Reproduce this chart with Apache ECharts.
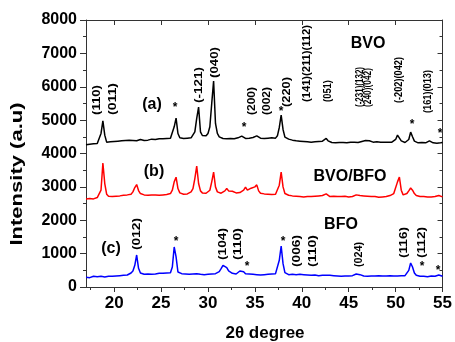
<!DOCTYPE html>
<html>
<head>
<meta charset="utf-8">
<script src="https://cdn.jsdelivr.net/npm/echarts@6/dist/echarts.min.js"></script>
<style>
  html, body { margin: 0; padding: 0; background: #fff; }
  #chart { width: 455px; height: 342px; }
</style>
</head>
<body>
<div id="chart"></div>
<script>
(function () {
  'use strict';

  // 2theta sampling: 17.0 .. 55.0 in 0.2 degree steps (191 points)
  var thetaStart = 17;
  var thetaStep = 0.2;

  // (a) BVO, black
  var bvo = [
    4260, 4240, 4280, 4250, 4290, 4270, 4300, 4290, 4600, 4980,
    4550, 4340, 4320, 4350, 4330, 4360, 4340, 4370, 4350, 4380,
    4360, 4390, 4370, 4400, 4380, 4390, 4410, 4380, 4400, 4420,
    4400, 4390, 4420, 4400, 4410, 4430, 4400, 4420, 4410, 4440,
    4420, 4440, 4410, 4450, 4430, 4460, 4500, 4800, 5060, 4600,
    4470, 4440, 4450, 4430, 4460, 4440, 4470, 4520, 4650, 5050,
    5390, 4650, 4540, 4500, 4530, 4600, 4800, 5500, 6170, 4900,
    4600, 4500, 4470, 4450, 4470, 4440, 4460, 4450, 4470, 4440,
    4450, 4470, 4460, 4520, 4480, 4450, 4470, 4460, 4490, 4480,
    4500, 4530, 4480, 4460, 4470, 4450, 4440, 4460, 4450, 4470,
    4470, 4460, 4530, 4780, 5150, 4720, 4490, 4440, 4430, 4410,
    4400, 4390, 4380, 4400, 4370, 4380, 4360, 4370, 4350, 4360,
    4340, 4360, 4350, 4340, 4360, 4350, 4370, 4420, 4450, 4380,
    4350, 4330, 4340, 4320, 4340, 4330, 4350, 4330, 4340, 4320,
    4330, 4340, 4320, 4340, 4350, 4330, 4340, 4360, 4380, 4390,
    4400, 4380, 4350, 4340, 4330, 4350, 4330, 4340, 4320, 4340,
    4330, 4340, 4350, 4340, 4370, 4420, 4550, 4500, 4380, 4340,
    4330, 4350, 4420, 4640, 4500, 4370, 4330, 4320, 4340, 4330,
    4340, 4320, 4350, 4380, 4340, 4320, 4330, 4310, 4340, 4320,
    4330
  ];

  // (b) BVO/BFO, red
  var bvoBfo = [
    2640, 2620, 2650, 2660, 2640, 2670, 2680, 2700, 2900, 3715,
    3100, 2780, 2720, 2740, 2710, 2730, 2720, 2750, 2730, 2740,
    2750, 2730, 2760, 2740, 2780, 2850, 2980, 3070, 2890, 2800,
    2780, 2760, 2770, 2750, 2770, 2760, 2780, 2760, 2770, 2750,
    2770, 2760, 2780, 2770, 2790, 2800, 2900, 3150, 3290, 2950,
    2820, 2790, 2780, 2800, 2790, 2810, 2850, 2950, 3250, 3625,
    3100, 2880, 2820, 2800, 2810, 2830, 2900, 3150, 3445, 3000,
    2850, 2820, 2810, 2830, 2880, 2950, 2880, 2840, 2870, 2830,
    2820, 2810, 2830, 2880, 2900, 2990, 2900, 2880, 2960, 2930,
    3000, 3060, 2880, 2810, 2800, 2790, 2800, 2780, 2790, 2770,
    2790, 2780, 2820, 3050, 3445, 3000, 2800, 2760, 2750, 2740,
    2730, 2740, 2720, 2730, 2710, 2720, 2700, 2720, 2710, 2700,
    2710, 2700, 2720, 2710, 2730, 2720, 2740, 2770, 2790, 2740,
    2710, 2700, 2720, 2700, 2710, 2690, 2710, 2700, 2720, 2710,
    2700, 2720, 2710, 2740, 2760, 2770, 2740, 2720, 2730, 2710,
    2720, 2700, 2710, 2690, 2710, 2700, 2690, 2710, 2700, 2720,
    2710, 2730, 2740, 2760, 2800, 2850, 3150, 3296, 2900, 2760,
    2760, 2800, 2880, 2966, 2900, 2800, 2740, 2720, 2710, 2700,
    2710, 2690, 2700, 2720, 2700, 2690, 2710, 2700, 2740, 2720,
    2700
  ];

  // (c) BFO, blue
  var bfo = [
    290, 310, 280, 300, 320, 300, 310, 290, 320, 310,
    300, 330, 320, 340, 320, 350, 330, 360, 340, 370,
    350, 380, 360, 390, 420, 480, 650, 959, 560, 420,
    400, 380, 410, 390, 400, 380, 410, 390, 400, 410,
    390, 410, 400, 420, 410, 430, 600, 1200, 900, 450,
    430, 400, 410, 390, 400, 380, 400, 390, 380, 400,
    390, 380, 400, 370, 390, 380, 400, 390, 380, 400,
    420, 460, 550, 650, 690, 580, 480, 430, 410, 400,
    390, 420, 480, 530, 460, 400, 380, 390, 370, 380,
    390, 370, 380, 360, 380, 370, 390, 380, 370, 390,
    380, 400, 450, 800, 1228, 700, 430, 380, 370, 360,
    380, 360, 370, 400, 380, 360, 370, 350, 360, 340,
    350, 340, 360, 350, 340, 360, 350, 370, 350, 340,
    350, 330, 340, 350, 330, 340, 320, 340, 330, 340,
    330, 350, 340, 360, 390, 400, 370, 340, 330, 340,
    320, 340, 330, 310, 330, 320, 340, 320, 330, 310,
    330, 320, 340, 320, 330, 310, 330, 320, 340, 330,
    340, 380, 500, 720, 600, 420, 350, 330, 320, 330,
    320, 330, 310, 320, 330, 310, 320, 330, 360, 340,
    320
  ];

  var xMajorTicks = [20, 25, 30, 35, 40, 45, 50, 55];
  var xMinorTicks = [17.5, 22.5, 27.5, 32.5, 37.5, 42.5, 47.5, 52.5];

  // peak labels: text, centre x, bottom y, top y (pixels, rotated text)
  var peakLabels = [
    ['(110)', 97, 115, 85],
    ['(011)', 113, 115, 83],
    ['(-121)', 199, 103, 67],
    ['(040)', 215, 78, 47],
    ['(200)', 252, 115, 87],
    ['(002)', 267, 115, 87],
    ['(220)', 287, 107, 77],
    ['(141)(211)(112)', 307, 102, 25],
    ['(051)', 328, 102, 80],
    ['(-231)(132)', 360, 107, 67],
    ['(240)(042)', 368, 107, 68],
    ['(-202)(042)', 399, 103, 57],
    ['(161)(013)', 428, 113, 70],
    ['(012)', 137, 250, 218],
    ['(104)', 223, 260, 228],
    ['(110)', 238, 260, 228],
    ['(006)', 297, 267, 235],
    ['(110)', 313, 267, 235],
    ['(024)', 359, 267, 242],
    ['(116)', 404, 258, 227],
    ['(112)', 422, 258, 227]
  ];

  var starMarks = [
    [175, 106], [244, 126], [281, 110], [412, 123], [440, 132],
    [176, 240], [247, 265], [283, 240], [422, 265], [438, 269]
  ];

  var sampleLabels = [
    ['BVO', 368, 44],
    ['BVO/BFO', 350, 177],
    ['BFO', 341, 225],
    ['(a)', 152, 105],
    ['(b)', 154, 172],
    ['(c)', 111, 249]
  ];

  var FONT = "'Liberation Sans', Arial, sans-serif";
  var measureCtx = document.createElement('canvas').getContext('2d');

  function textWidth(text, font) {
    measureCtx.font = font;
    return measureCtx.measureText(text).width;
  }

  function toPairs(values) {
    var out = [];
    for (var i = 0; i < values.length; i += 1) {
      out.push([+(thetaStart + i * thetaStep).toFixed(1), values[i]]);
    }
    return out;
  }

  function centeredText(text, x, y, font) {
    return {
      type: 'text', x: x, y: y,
      style: { text: text, font: font, fill: '#000',
        textAlign: 'center', textVerticalAlign: 'middle', align: 'center', verticalAlign: 'middle' }
    };
  }

  function buildGraphics() {
    var els = [];
    for (var i = 0; i < peakLabels.length; i += 1) {
      var p = peakLabels[i];
      var s = (p[2] - p[3]) / textWidth(p[0], 'bold 11px ' + FONT);
      // long labels get a slightly smaller font, then are fitted to their span
      var size = s < 1 ? 11 * Math.pow(s, 0.3) : 11;
      var font = 'bold ' + size.toFixed(1) + 'px ' + FONT;
      var scale = (p[2] - p[3]) / textWidth(p[0], font);
      els.push({
        type: 'text', x: p[1], y: p[2], rotation: Math.PI / 2, scaleX: scale,
        style: { text: p[0], font: font, fill: '#000',
          textAlign: 'left', textVerticalAlign: 'middle', align: 'left', verticalAlign: 'middle' }
      });
    }
    for (var j = 0; j < starMarks.length; j += 1) {
      els.push(centeredText('*', starMarks[j][0], starMarks[j][1] + 2, 'bold 12px ' + FONT));
    }
    for (var k = 0; k < sampleLabels.length; k += 1) {
      var t = sampleLabels[k];
      els.push(centeredText(t[0], t[1], t[2], 'bold 16px ' + FONT));
    }
    // axis titles
    els.push(centeredText('2\u03b8 degree', 265, 333, 'bold 17px ' + FONT));
    var titleFont = 'bold 16px ' + FONT;
    var yTitle = 'Intensity (a.u)';
    var yTitleEl = centeredText(yTitle, 18, 174, titleFont);
    yTitleEl.rotation = Math.PI / 2;
    yTitleEl.scaleX = 143 / textWidth(yTitle, titleFont);
    els.push(yTitleEl);
    return els;
  }

  var axisLine = { show: true, onZero: false, lineStyle: { color: '#333', width: 1 } };
  var labelStyle = { color: '#000', fontFamily: FONT, fontWeight: 'bold' };

  var option = {
    animation: false,
    backgroundColor: '#fff',
    grid: { left: 86, right: 11, top: 20, bottom: 55 },
    xAxis: [
      {
        type: 'value', min: 17, max: 55, position: 'bottom',
        axisLine: axisLine,
        axisTick: { show: true, inside: false, length: 5, customValues: xMajorTicks, lineStyle: { color: '#333' } },
        axisLabel: Object.assign({ fontSize: 17, margin: 8, customValues: xMajorTicks }, labelStyle),
        splitLine: { show: false }
      },
      {
        type: 'value', min: 17, max: 55, position: 'bottom',
        axisLine: { show: false },
        axisTick: { show: true, inside: false, length: 3, customValues: xMinorTicks, lineStyle: { color: '#333' } },
        axisLabel: { show: false },
        splitLine: { show: false }
      },
      {
        type: 'value', min: 17, max: 55, position: 'top',
        axisLine: axisLine,
        axisTick: { show: true, inside: true, length: 5, customValues: xMajorTicks, lineStyle: { color: '#333' } },
        axisLabel: { show: false },
        splitLine: { show: false }
      },
      {
        type: 'value', min: 17, max: 55, position: 'top',
        axisLine: { show: false },
        axisTick: { show: true, inside: true, length: 3, customValues: xMinorTicks, lineStyle: { color: '#333' } },
        axisLabel: { show: false },
        splitLine: { show: false }
      }
    ],
    yAxis: [
      {
        type: 'value', min: 0, max: 8000, interval: 1000, position: 'left',
        axisLine: axisLine,
        axisTick: { show: true, inside: false, length: 6, lineStyle: { color: '#333' } },
        minorTick: { show: true, splitNumber: 2, length: 3, lineStyle: { color: '#333' } },
        axisLabel: Object.assign({
          fontSize: 16, margin: 9,
          formatter: function (v) { return String(v); }
        }, labelStyle),
        splitLine: { show: false }
      },
      {
        type: 'value', min: 0, max: 8000, interval: 1000, position: 'right',
        axisLine: axisLine,
        axisTick: { show: true, inside: true, length: 5, lineStyle: { color: '#333' } },
        minorTick: { show: true, splitNumber: 2, length: 3, lineStyle: { color: '#333' } },
        axisLabel: { show: false },
        splitLine: { show: false }
      }
    ],
    series: [
      { type: 'line', name: 'BVO', data: toPairs(bvo), showSymbol: false,
        lineStyle: { color: '#000', width: 1.5 }, z: 3 },
      { type: 'line', name: 'BVO/BFO', data: toPairs(bvoBfo), showSymbol: false,
        lineStyle: { color: '#ff0000', width: 1.5 }, z: 3 },
      { type: 'line', name: 'BFO', data: toPairs(bfo), showSymbol: false,
        lineStyle: { color: '#0000ff', width: 1.5 }, z: 3 }
    ],
    graphic: buildGraphics()
  };

  var chart = echarts.init(document.getElementById('chart'));
  chart.setOption(option);
})();
</script>
</body>
</html>
